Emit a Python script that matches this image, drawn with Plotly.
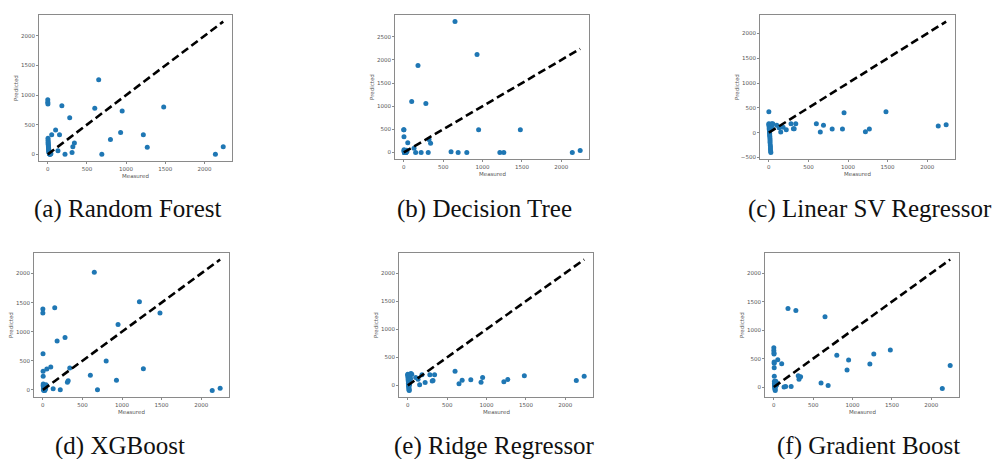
import plotly.graph_objects as go

# ---------------- data ----------------
measured = [0, 0, 2, 3, 4, 5, 5, 6, 8, 8, 10, 10, 12, 14, 15, 15, 18, 20, 20, 22, 25, 28, 30, 35, 40,
            50, 100, 130, 150, 180, 220, 280, 310, 320, 340, 600, 650, 690, 800, 930, 950,
            1220, 1270, 1480, 2140, 2240]

pred_random_forest = [920, 880, 850, 270, 240, 210, 190, 170, 150, 130, 110, 95, 80, 65, 50, 40, 30, 20, 15, 10, 5, 0, 0, 30, 10,
                      330, 410, 60, 330, 820, 0, 620, 30, 130, 190, 780, 1260, 0, 250, 370, 730, 330, 120, 800, 0, 130]
pred_decision_tree = [490, 490, 340, 60, 40, 30, 20, 10, 5, 0, 0, 0, 0, 0, 0, 0, 0, 10, 20, 0, 0, 0, 30, 50, 20,
                      210, 1100, 90, 0, 1880, 0, 1060, 0, 280, 200, 15, 2830, 0, 0, 2120, 490, 0, 0, 490, 0, 40]
pred_linear_svr = [420, 180, 170, 150, 130, 100, 80, 60, 30, 10, -20, -50, -80, -120, -160, -200, -250, -290, -330, -370, -400, 160, 120, 180, 100,
                   180, 150, 100, 15, 110, 60, 180, 80, 80, 180, 180, 10, 150, 75, 75, 400, 20, 75, 420, 135, 160]
pred_xgboost = [1390, 1320, 620, 320, 235, 100, 80, 60, 40, 20, 10, 0, -10, 0, 10, 30, 50, 70, 20, 0, -10, 40, 60, 20, 90,
                360, 395, 20, 1410, 840, 0, 900, 130, 155, 375, 250, 2020, 0, 495, 165, 1125, 1515, 365, 1320, -10, 30]
pred_ridge = [200, 190, 180, 160, 140, 120, 100, 80, 60, 40, 20, 0, -20, -40, -60, -80, -90, 50, 30, 10, 150, 200, 170, 120, 210,
              200, 140, 110, 10, 190, 50, 190, 80, 85, 190, 250, 30, 90, 100, 55, 140, 65, 105, 170, 85, 165]
pred_gradient_boost = [690, 640, 600, 580, 440, 420, 340, 190, 100, 60, 50, 30, 10, 0, -20, -40, -60, 80, 20, 40, 100, 60, 30, 40, 70,
                       480, 410, 0, 10, 1380, 10, 1345, 200, 135, 180, 70, 1235, 25, 560, 300, 475, 405, 580, 650, -25, 380]

captions = ["(a) Random Forest", "(b) Decision Tree", "(c) Linear SV Regressor",
            "(d) XGBoost", "(e) Ridge Regressor", "(f) Gradient Boost"]
predictions = [pred_random_forest, pred_decision_tree, pred_linear_svr,
               pred_xgboost, pred_ridge, pred_gradient_boost]

# ---------------- layout ----------------
W, H = 992, 459
# axes boxes in pixels: left, right, top, bottom
boxes = [(39, 232, 15, 161), (395, 589, 15, 159), (760, 955, 15, 159),
         (34, 229, 253, 397), (399, 593, 253, 397), (765, 959, 253, 397)]
caption_pos = [(128, 209), (484, 209), (870, 209),
               (120, 446), (494, 446), (868, 446)]

fig = go.Figure()
annotations = []
line_x = [min(measured), max(measured)]

for i, (pred, box) in enumerate(zip(predictions, boxes)):
    n = i + 1
    xa = "x" if n == 1 else f"x{n}"
    ya = "y" if n == 1 else f"y{n}"
    fig.add_trace(go.Scatter(x=measured, y=pred, mode="markers", xaxis=xa, yaxis=ya,
                             marker=dict(color="#1f77b4", size=5, line=dict(width=0)),
                             showlegend=False))
    fig.add_trace(go.Scatter(x=line_x, y=line_x, mode="lines", xaxis=xa, yaxis=ya,
                             line=dict(color="black", width=2.6, dash="8px,4px"),
                             showlegend=False))
    l, r, t, b = box
    xs = measured + line_x
    ys = pred + line_x
    xr = [min(xs) - 0.05 * (max(xs) - min(xs)), max(xs) + 0.05 * (max(xs) - min(xs))]
    yr = [min(ys) - 0.05 * (max(ys) - min(ys)), max(ys) + 0.05 * (max(ys) - min(ys))]
    common = dict(showgrid=False, zeroline=False, showline=True, mirror=True,
                  linecolor="#8a8a8a", linewidth=1, ticks="outside", ticklen=2,
                  tickcolor="#8a8a8a", tickwidth=1, dtick=500,
                  tickfont=dict(family="DejaVu Sans", size=5.5, color="#555555"))
    fig.update_layout(**{
        ("xaxis" if n == 1 else f"xaxis{n}"): dict(domain=[l / W, r / W], range=xr,
                                                   anchor=ya, **common),
        ("yaxis" if n == 1 else f"yaxis{n}"): dict(domain=[1 - b / H, 1 - t / H], range=yr,
                                                   anchor=xa, **common),
    })
    annotations.append(dict(text="Predicted", x=(l - 23) / W, y=1 - ((t + b) / 2) / H,
                            xref="paper", yref="paper", showarrow=False, textangle=-90,
                            font=dict(family="DejaVu Sans", size=5.5, color="#555555"),
                            xanchor="center", yanchor="middle"))
    annotations.append(dict(text="Measured", x=((l + r) / 2) / W, y=1 - (b + 15) / H,
                            xref="paper", yref="paper", showarrow=False,
                            font=dict(family="DejaVu Sans", size=5.5, color="#555555"),
                            xanchor="center", yanchor="middle"))
    cx, cy = caption_pos[i]
    annotations.append(dict(text=captions[i], x=cx / W, y=1 - cy / H,
                            xref="paper", yref="paper", showarrow=False,
                            font=dict(family="Liberation Serif", size=25, color="#111111"),
                            xanchor="center", yanchor="middle"))

fig.update_layout(width=W, height=H, margin=dict(l=0, r=0, t=0, b=0),
                  paper_bgcolor="white", plot_bgcolor="white",
                  annotations=annotations)
fig.write_html("out.html")
